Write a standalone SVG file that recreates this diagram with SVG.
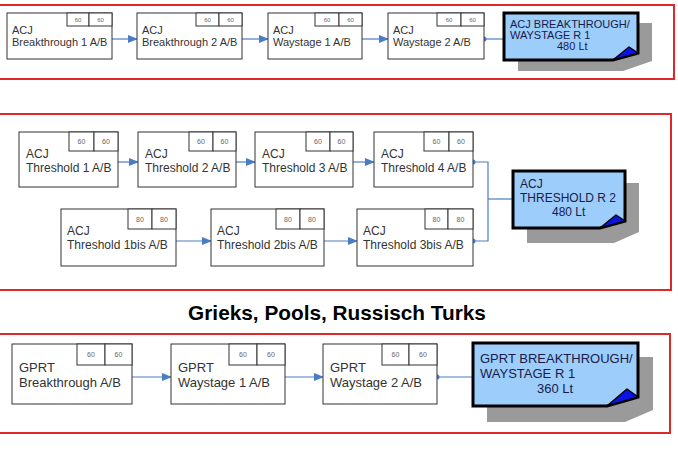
<svg xmlns="http://www.w3.org/2000/svg" width="678" height="455" viewBox="0 0 678 455">
<style>
.frame{fill:none;stroke:#e02828;stroke-width:2}
.node rect{fill:#fff;stroke:#333;stroke-width:1}
.node text{font-family:"Liberation Sans",Arial,sans-serif;fill:#333}
.num{fill:#666 !important;text-anchor:middle}
.con{fill:none;stroke:#4a7cc4;stroke-width:1.2}
.dot{fill:#4a7cc4}
.shadow{fill:#9a9a9a}
.co{fill:#9ccdfb;stroke:#000;stroke-width:3;stroke-linejoin:miter}
.fold{fill:#0a14e6;stroke:#000;stroke-width:1.5;stroke-linejoin:round}
.cot{font-family:"Liberation Sans",Arial,sans-serif;fill:#1a1a4a}
.title{font-family:"Liberation Sans",Arial,sans-serif;font-weight:bold;fill:#000;text-anchor:middle}
</style>
<defs>
<marker id="ah" markerWidth="10" markerHeight="8" refX="9" refY="4" orient="auto" markerUnits="userSpaceOnUse">
<path d="M0,0 L10,4 L0,8 Z" fill="#4a7cc4"/>
</marker>
</defs>
<rect width="678" height="455" fill="#fff"/>
<rect class="frame" x="-5" y="5" width="679" height="74"/>
<rect class="frame" x="-5" y="114" width="676" height="176"/>
<rect class="frame" x="-5" y="334" width="675" height="99"/>
<text class="title" x="337" y="320" font-size="20.8">Grieks, Pools, Russisch Turks</text>

<g id="connectors">
<line class="con" x1="112" y1="39" x2="137" y2="39" marker-end="url(#ah)"/>
<line class="con" x1="242" y1="39" x2="268" y2="39" marker-end="url(#ah)"/>
<line class="con" x1="362" y1="39" x2="388" y2="39" marker-end="url(#ah)"/>
<line class="con" x1="484" y1="39" x2="504" y2="39"/>
<circle class="dot" cx="484" cy="39" r="2.5"/>
<line class="con" x1="118" y1="162" x2="138" y2="162" marker-end="url(#ah)"/>
<line class="con" x1="236" y1="162" x2="255" y2="162" marker-end="url(#ah)"/>
<line class="con" x1="353" y1="162" x2="374" y2="162" marker-end="url(#ah)"/>
<line class="con" x1="176" y1="241" x2="211" y2="241" marker-end="url(#ah)"/>
<line class="con" x1="324" y1="241" x2="357" y2="241" marker-end="url(#ah)"/>
<polyline class="con" points="473,162 488,162 488,241 473,241"/>
<line class="con" x1="488" y1="199" x2="513" y2="199"/>
<circle class="dot" cx="473" cy="162" r="2.5"/>
<circle class="dot" cx="473" cy="241" r="2.5"/>
<line class="con" x1="132" y1="377" x2="171" y2="377" marker-end="url(#ah)"/>
<line class="con" x1="285" y1="377" x2="323" y2="377" marker-end="url(#ah)"/>
<line class="con" x1="437" y1="377" x2="473" y2="377"/>
<circle class="dot" cx="437" cy="377" r="2.5"/>
</g>

<g id="acj-b1" class="node">
<rect x="7" y="13" width="105" height="46"/>
<rect x="67" y="13" width="22" height="13"/><rect x="89" y="13" width="23" height="13"/>
<text class="num" x="78" y="22" font-size="6">60</text><text class="num" x="100.5" y="22" font-size="6">60</text>
<text x="12" y="34" font-size="11">ACJ</text><text x="12" y="46" font-size="11">Breakthrough 1 A/B</text>
</g>
<g id="acj-b2" class="node">
<rect x="137" y="13" width="105" height="46"/>
<rect x="196" y="13" width="23" height="13"/><rect x="219" y="13" width="23" height="13"/>
<text class="num" x="207.5" y="22" font-size="6">60</text><text class="num" x="230.5" y="22" font-size="6">60</text>
<text x="142" y="34" font-size="11">ACJ</text><text x="142" y="46" font-size="11">Breakthrough 2 A/B</text>
</g>
<g id="acj-w1" class="node">
<rect x="268" y="13" width="94" height="46"/>
<rect x="315" y="13" width="24" height="13"/><rect x="339" y="13" width="23" height="13"/>
<text class="num" x="327" y="22" font-size="6">60</text><text class="num" x="350.5" y="22" font-size="6">60</text>
<text x="273" y="34" font-size="11">ACJ</text><text x="273" y="46" font-size="11">Waystage 1 A/B</text>
</g>
<g id="acj-w2" class="node">
<rect x="388" y="13" width="96" height="46"/>
<rect x="437" y="13" width="24" height="13"/><rect x="461" y="13" width="23" height="13"/>
<text class="num" x="449" y="22" font-size="6">60</text><text class="num" x="472.5" y="22" font-size="6">60</text>
<text x="393" y="34" font-size="11">ACJ</text><text x="393" y="46" font-size="11">Waystage 2 A/B</text>
</g>
<g id="acj-bw-r1">
<polygon class="shadow" points="518,23 652,23 652,61 623,71 518,71"/>
<polygon class="co" points="504,13 638,13 638,53 613,60 504,60"/>
<polygon class="fold" points="613,60 629,47 638,53"/>
<text class="cot" x="510" y="28" font-size="11">ACJ BREAKTHROUGH/</text>
<text class="cot" x="510" y="39" font-size="11">WAYSTAGE R 1</text>
<text class="cot" x="557" y="50" font-size="11">480 Lt</text>
</g>

<g id="acj-t1" class="node">
<rect x="19" y="132" width="99" height="55"/>
<rect x="69" y="132" width="25" height="19"/><rect x="94" y="132" width="24" height="19"/>
<text class="num" x="81.5" y="143.5" font-size="7">60</text><text class="num" x="106" y="143.5" font-size="7">60</text>
<text x="26" y="158" font-size="12">ACJ</text><text x="26" y="172" font-size="12">Threshold 1 A/B</text>
</g>
<g id="acj-t2" class="node">
<rect x="138" y="132" width="98" height="55"/>
<rect x="189" y="132" width="24" height="19"/><rect x="213" y="132" width="23" height="19"/>
<text class="num" x="201" y="143.5" font-size="7">60</text><text class="num" x="224.5" y="143.5" font-size="7">60</text>
<text x="145" y="158" font-size="12">ACJ</text><text x="145" y="172" font-size="12">Threshold 2 A/B</text>
</g>
<g id="acj-t3" class="node">
<rect x="255" y="132" width="98" height="55"/>
<rect x="306" y="132" width="24" height="19"/><rect x="330" y="132" width="23" height="19"/>
<text class="num" x="318" y="143.5" font-size="7">60</text><text class="num" x="341.5" y="143.5" font-size="7">60</text>
<text x="262" y="158" font-size="12">ACJ</text><text x="262" y="172" font-size="12">Threshold 3 A/B</text>
</g>
<g id="acj-t4" class="node">
<rect x="374" y="132" width="99" height="55"/>
<rect x="424" y="132" width="25" height="19"/><rect x="449" y="132" width="24" height="19"/>
<text class="num" x="436.5" y="143.5" font-size="7">60</text><text class="num" x="461" y="143.5" font-size="7">60</text>
<text x="381" y="158" font-size="12">ACJ</text><text x="381" y="172" font-size="12">Threshold 4 A/B</text>
</g>
<g id="acj-t1bis" class="node">
<rect x="61" y="209" width="115" height="57"/>
<rect x="128" y="209" width="24" height="20"/><rect x="152" y="209" width="24" height="20"/>
<text class="num" x="140" y="221.5" font-size="7">80</text><text class="num" x="164" y="221.5" font-size="7">80</text>
<text x="67" y="235" font-size="12">ACJ</text><text x="67" y="249" font-size="12">Threshold 1bis A/B</text>
</g>
<g id="acj-t2bis" class="node">
<rect x="211" y="209" width="113" height="57"/>
<rect x="276" y="209" width="24" height="20"/><rect x="300" y="209" width="24" height="20"/>
<text class="num" x="288" y="221.5" font-size="7">80</text><text class="num" x="312" y="221.5" font-size="7">80</text>
<text x="217" y="235" font-size="12">ACJ</text><text x="217" y="249" font-size="12">Threshold 2bis A/B</text>
</g>
<g id="acj-t3bis" class="node">
<rect x="357" y="209" width="116" height="57"/>
<rect x="425" y="209" width="23" height="20"/><rect x="448" y="209" width="25" height="20"/>
<text class="num" x="436.5" y="221.5" font-size="7">80</text><text class="num" x="460.5" y="221.5" font-size="7">80</text>
<text x="363" y="235" font-size="12">ACJ</text><text x="363" y="249" font-size="12">Threshold 3bis A/B</text>
</g>
<g id="acj-t-r2">
<polygon class="shadow" points="527,183 639,183 639,232 614,243 527,243"/>
<polygon class="co" points="513,171 625,171 625,221 600,228 513,228"/>
<polygon class="fold" points="600,228 616,215 625,221"/>
<text class="cot" x="520" y="188" font-size="12">ACJ</text>
<text class="cot" x="520" y="202" font-size="12">THRESHOLD R 2</text>
<text class="cot" x="552" y="216" font-size="12">480 Lt</text>
</g>

<g id="gprt-b" class="node">
<rect x="12" y="344" width="120" height="60"/>
<rect x="77" y="344" width="28" height="21"/><rect x="105" y="344" width="27" height="21"/>
<text class="num" x="91" y="357" font-size="7">60</text><text class="num" x="118.5" y="357" font-size="7">60</text>
<text x="19" y="372" font-size="13">GPRT</text><text x="19" y="387" font-size="13">Breakthrough A/B</text>
</g>
<g id="gprt-w1" class="node">
<rect x="171" y="344" width="114" height="60"/>
<rect x="229" y="344" width="28" height="21"/><rect x="257" y="344" width="28" height="21"/>
<text class="num" x="243" y="357" font-size="7">60</text><text class="num" x="271" y="357" font-size="7">60</text>
<text x="178" y="372" font-size="13">GPRT</text><text x="178" y="387" font-size="13">Waystage 1 A/B</text>
</g>
<g id="gprt-w2" class="node">
<rect x="323" y="344" width="114" height="60"/>
<rect x="382" y="344" width="27" height="21"/><rect x="409" y="344" width="28" height="21"/>
<text class="num" x="395.5" y="357" font-size="7">60</text><text class="num" x="423" y="357" font-size="7">60</text>
<text x="330" y="372" font-size="13">GPRT</text><text x="330" y="387" font-size="13">Waystage 2 A/B</text>
</g>
<g id="gprt-bw-r1">
<polygon class="shadow" points="487,357 653,357 653,410 625,422 487,422"/>
<polygon class="co" points="473,343 638,343 638,397 607,406 473,406"/>
<polygon class="fold" points="607,406 627,389 638,397"/>
<text class="cot" x="480" y="363" font-size="13">GPRT BREAKTHROUGH/</text>
<text class="cot" x="480" y="378" font-size="13">WAYSTAGE R 1</text>
<text class="cot" x="537" y="393" font-size="13">360 Lt</text>
</g>
</svg>
